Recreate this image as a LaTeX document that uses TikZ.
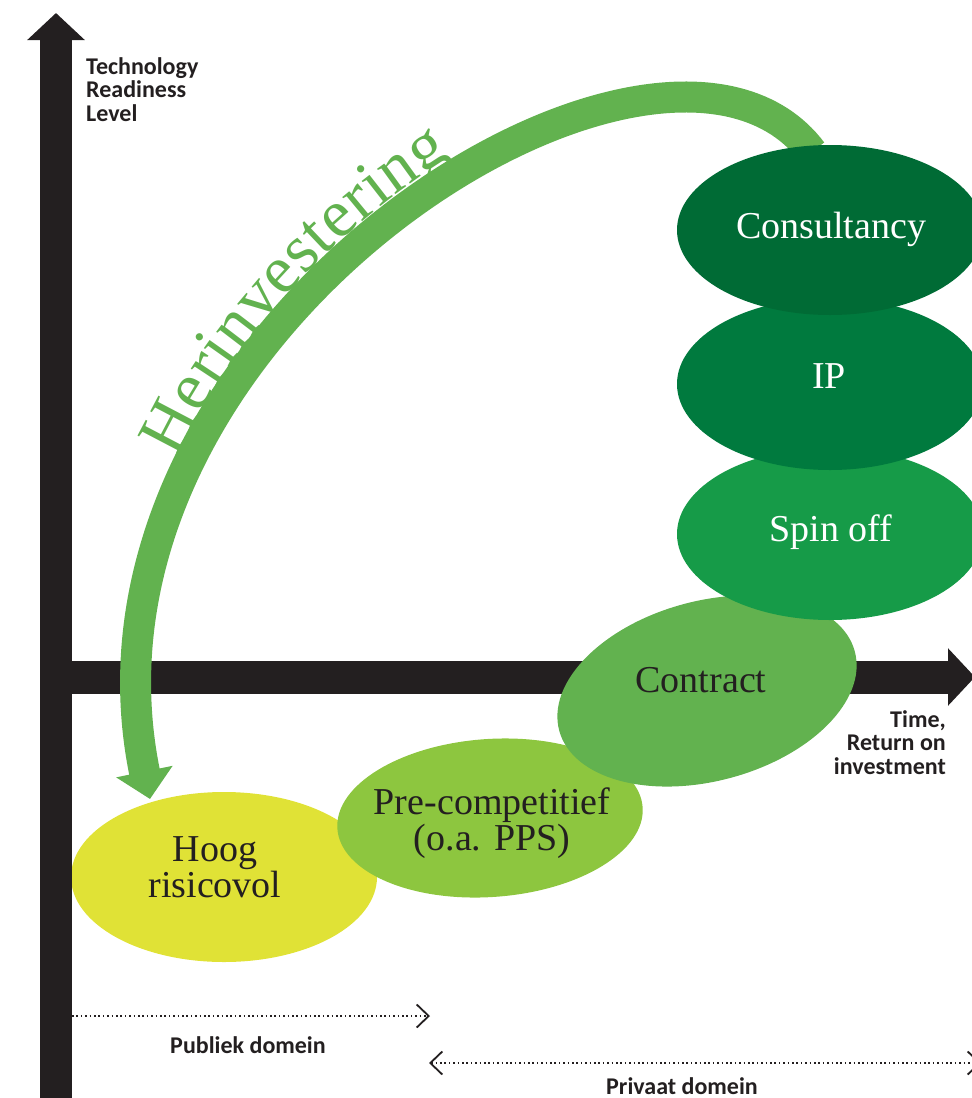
\documentclass[tikz,border=0pt]{standalone}
\usepackage{fontspec}
\setmainfont{Liberation Serif}
\setsansfont{Carlito}
\usetikzlibrary{arrows.meta,decorations.text}

\definecolor{axisblack}{HTML}{231F20}
\definecolor{consgreen}{HTML}{006B35}
\definecolor{ipgreen}{HTML}{007A3E}
\definecolor{spingreen}{HTML}{169B48}
\definecolor{contrgreen}{HTML}{62B24F}
\definecolor{pregreen}{HTML}{8DC63F}
\definecolor{hoogyellow}{HTML}{E0E236}

\newcommand{\herfont}{\fontsize{68}{68}\selectfont\color{contrgreen}}

\begin{document}
\begin{tikzpicture}[x=1pt,y=-1pt,
    axis/.style={draw=axisblack, line width=33pt, -{Triangle[length=27pt,width=56pt]}},
    domainline/.style={draw=axisblack, line width=1.6pt, dash pattern=on 1.6pt off 2.8pt},
    barb/.tip={Straight Barb[length=12pt,width=23pt,line width=1.8pt]},
    lbl/.style={font=\sffamily\bfseries\fontsize{24}{23.5}\selectfont, text=axisblack, inner sep=0pt},
    blob/.style={font=\fontsize{38}{34}\selectfont, inner sep=0pt, align=center}]
    \useasboundingbox (0,0) rectangle (972,1098);
    \newcommand{\rx}{153pt} % half width of the ellipses
    \newcommand{\stackx}{830} % column of the upper ellipses

    % time axis
    \coordinate (origin) at (72,677);
    \coordinate (timeend) at (975,677);
    \draw[axis] (origin) -- (timeend);

    % ellipses, lowest first
    \fill[hoogyellow] (224,877) ellipse [x radius=\rx, y radius=85pt];
    \fill[pregreen, rotate around={4:(490,818)}] (490,818) ellipse [x radius=\rx, y radius=79pt];
    \fill[contrgreen, rotate around={15:(707,691)}] (707,691) ellipse [x radius=\rx, y radius=90pt];

    % reinvestment arrow
    \coordinate (herstart) at (812,152);
    \coordinate (hertip) at (150,799);
    \draw[contrgreen, line width=31pt, -{Triangle[length=28pt,width=56pt]}]
        (herstart) .. controls (662,-48) and (54,329) .. (hertip);
    \path[decorate, decoration={text along path, text={|\herfont|Herinvestering},
        text align={left, left indent=340pt}, raise=19pt}]
        (hertip) .. controls (54,329) and (662,-48) .. (herstart);

    \fill[spingreen] (\stackx,534) ellipse [x radius=\rx, y radius=86pt];
    \fill[ipgreen] (\stackx,384) ellipse [x radius=\rx, y radius=86pt];
    \fill[consgreen] (\stackx,230) ellipse [x radius=\rx, y radius=85pt];

    % TRL axis
    \coordinate (trlfoot) at (56,1102);
    \coordinate (trltop) at (56,13);
    \draw[axis, line width=32pt] (trlfoot) -- (trltop);

    % texts in the ellipses
    \node[blob, text=white] (consultancy) at (831,229) {Consultancy};
    \node[blob, text=white] (ip) at (829,376) {IP};
    \node[blob, text=white] (spinoff) at (831,532) {Spin off};
    \node[blob, text=axisblack] (contract) at (701,680) {Contract};
    \node[blob, text=axisblack] (precomp) at (492,823) {Pre-competitief\\(o.a. PPS)};
    \node[blob, text=axisblack] (hoog) at (215,867) {Hoog\\risicovol};

    % axis labels
    \node[lbl, anchor=north west, align=left] (trl) at (86,57) {Technology\\Readiness\\Level};
    \node[lbl, anchor=north east, align=right] (time) at (946,710) {Time,\\Return on\\investment};

    % domains
    \coordinate (pubstart) at (72,1016);
    \coordinate (pubend) at (430,1016);
    \coordinate (privstart) at (429,1063);
    \coordinate (privend) at (981,1063);
    \draw[domainline, -barb] (pubstart) -- (pubend);
    \draw[domainline, barb-barb] (privstart) -- (privend);
    \node[lbl, anchor=base] (publiek) at (248,1053) {Publiek domein};
    \node[lbl, anchor=base] (privaat) at (682,1094) {Privaat domein};
\end{tikzpicture}
\end{document}
